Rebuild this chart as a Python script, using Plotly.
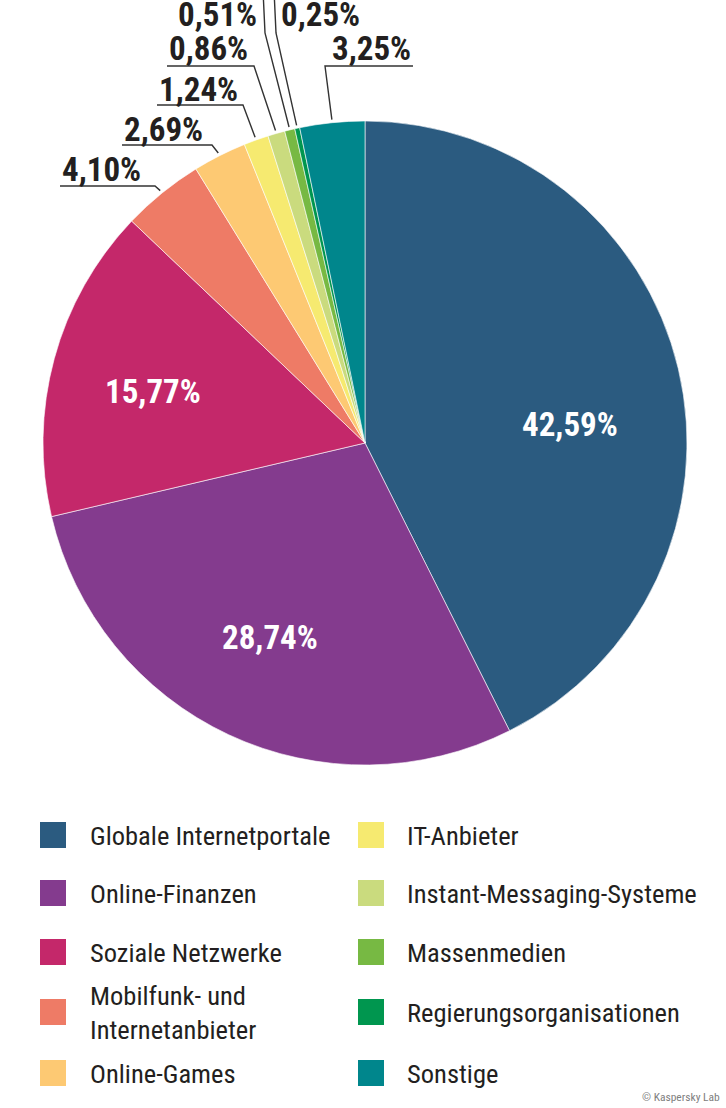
import math
import plotly.graph_objects as go

# ---------------- data ----------------
categories = ["Globale Internetportale", "Online-Finanzen", "Soziale Netzwerke",
              "Mobilfunk- und<br>Internetanbieter", "Online-Games", "IT-Anbieter",
              "Instant-Messaging-Systeme", "Massenmedien", "Regierungsorganisationen",
              "Sonstige"]
values = [42.59, 28.74, 15.77, 4.10, 2.69, 1.24, 0.86, 0.51, 0.25, 3.25]
colors = ["#2B5B80", "#843B8E", "#C4286A", "#EE7B66", "#FDC973", "#F6EA70",
          "#CADB7E", "#77B943", "#00964F", "#00868C"]

# ---------------- layout constants ----------------
W, H = 726, 1108
CX, CY, R = 365, 443, 322          # pie centre / radius in pixels
FONT = "Roboto Condensed, Open Sans Condensed, sans-serif"
DARK = "#231F20"

def px(x, y):
    return x / W, 1 - y / H

labels = [f"{v:.2f}".replace(".", ",") + "%" for v in values]

fig = go.Figure()
fig.add_trace(go.Pie(
    labels=categories, values=values, sort=False, direction="clockwise",
    rotation=0, marker=dict(colors=colors, line=dict(color="white", width=0.6)),
    textinfo="none",
    hoverinfo="label+percent", showlegend=False,
    domain=dict(x=[(CX - R) / W, (CX + R) / W], y=[1 - (CY + R) / H, 1 - (CY - R) / H]),
))

shapes = []
annotations = []

# inside label placement (pixel centres)
inside_pos = {0: (570, 424), 1: (270, 637), 2: (153, 391)}
for i, (tx, ty) in inside_pos.items():
    X, Y = px(tx, ty)
    annotations.append(dict(x=X, y=Y, xref="paper", yref="paper", text=labels[i],
                            showarrow=False, xanchor="center", yanchor="middle",
                            font=dict(family=FONT, size=33, color="white", weight="bold")))

# outside label placement (leader elbows, text position, anchor)
outside = {
    3: ([(155, 186), (60, 186)], 60, 170, "left"),
    4: ([(212, 145), (122, 145)], 122, 129, "left"),
    5: ([(243, 105), (157, 105)], 157, 89, "left"),
    6: ([(254, 66), (167, 66)], 167, 49, "left"),
    7: ([(265, 33), (263, -10)], 259, 15, "right"),
    8: ([(276, 33), (274, -10)], 279, 15, "left"),
    9: ([(325, 66), (413, 66)], 413, 49, "right"),
}

total = sum(values)
cum = 0.0
mids = []
for v in values:
    mids.append((cum + v / 2) / total * 2 * math.pi)
    cum += v

for i, (pts, tx, ty, xa) in outside.items():
    a = mids[i]
    ax_ = CX + (R + 3) * math.sin(a)
    ay_ = CY - (R + 3) * math.cos(a)
    path_pts = [(ax_, ay_)] + pts
    path = ""
    for k, (x, y) in enumerate(path_pts):
        X, Y = px(x, y)
        path += ("M" if k == 0 else " L") + f" {X:.5f} {Y:.5f}"
    shapes.append(dict(type="path", xref="paper", yref="paper", path=path,
                       line=dict(color="#333333", width=1.4)))
    X, Y = px(tx, ty)
    annotations.append(dict(x=X, y=Y, xref="paper", yref="paper", text=labels[i],
                            showarrow=False, xanchor=xa, yanchor="middle",
                            font=dict(family=FONT, size=33, color=DARK, weight="bold")))

# legend (two columns)
rows = [835, 893, 952, 1012, 1073]
cols = [(40, 88), (358, 405)]
for i, name in enumerate(categories):
    c = i // 5
    r = i % 5
    sx, tx = cols[c]
    y = rows[r]
    x0, y0 = px(sx, y - 13)
    x1, y1 = px(sx + 26, y + 13)
    shapes.append(dict(type="rect", xref="paper", yref="paper", x0=x0, x1=x1,
                       y0=y1, y1=y0, fillcolor=colors[i], line=dict(width=0)))
    X, Y = px(tx, y)
    annotations.append(dict(x=X, y=Y, xref="paper", yref="paper", text=name,
                            showarrow=False, xanchor="left", yanchor="middle",
                            align="left",
                            font=dict(family=FONT, size=26.5, color=DARK)))

X, Y = px(722, 1097)
annotations.append(dict(x=X, y=Y, xref="paper", yref="paper", text="© Kaspersky Lab",
                        showarrow=False, xanchor="right", yanchor="middle",
                        font=dict(family=FONT, size=11.5, color="#808080")))

fig.update_layout(width=W, height=H, margin=dict(l=0, r=0, t=0, b=0),
                  paper_bgcolor="white", plot_bgcolor="white",
                  shapes=shapes, annotations=annotations)
fig.write_html("out.html", post_script="document.body.style.margin='0';",
               config={"displayModeBar": False})
